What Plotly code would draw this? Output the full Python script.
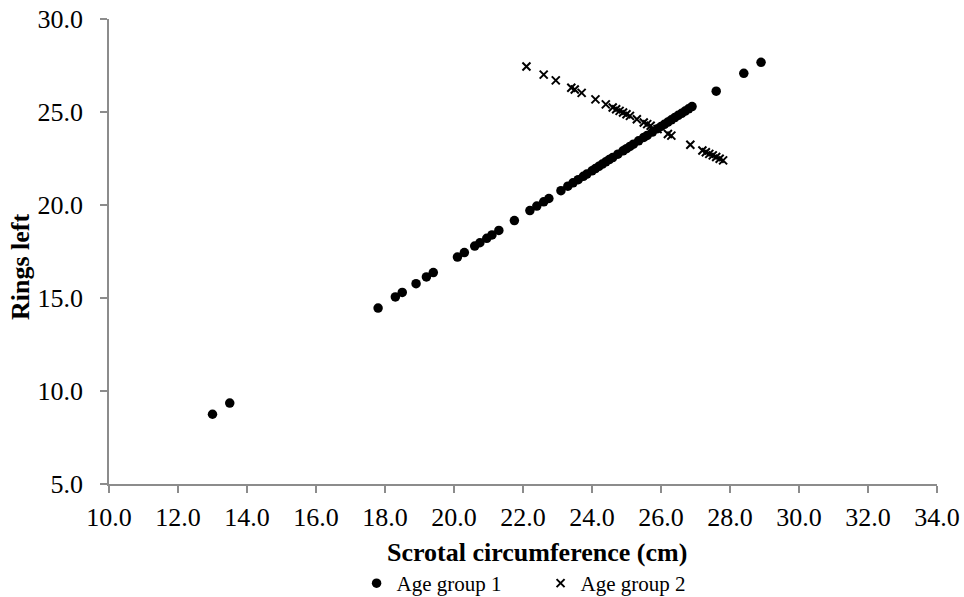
import plotly.graph_objects as go

# Age group 1 (filled circles)
g1_x = [13.0, 13.5, 17.8, 18.3, 18.5, 18.9, 19.2, 19.4, 20.1, 20.3, 20.6, 20.75, 20.95, 21.1, 21.3,
        21.75, 22.2, 22.4, 22.6, 22.75, 23.1, 23.3, 23.45, 23.6, 23.75, 23.85, 24.0, 24.1, 24.2,
        24.3, 24.4, 24.5, 24.6, 24.75, 24.9, 25.0, 25.1, 25.2, 25.35, 25.5, 25.6, 25.75, 25.9,
        26.0, 26.1, 26.2, 26.3, 26.4, 26.5, 26.6, 26.7, 26.8, 26.9, 27.6, 28.4, 28.9]
g1_y = [8.75, 9.35, 14.46, 15.06, 15.30, 15.77, 16.13, 16.37, 17.20, 17.44, 17.79, 17.97, 18.21,
        18.39, 18.63, 19.16, 19.70, 19.94, 20.17, 20.35, 20.77, 21.01, 21.19, 21.36, 21.54, 21.66,
        21.84, 21.96, 22.08, 22.20, 22.32, 22.44, 22.55, 22.73, 22.91, 23.03, 23.15, 23.27, 23.45,
        23.63, 23.74, 23.92, 24.10, 24.22, 24.34, 24.46, 24.58, 24.70, 24.82, 24.93, 25.05, 25.17,
        25.29, 26.12, 27.08, 27.67]

# Age group 2 (crosses)
g2_x = [22.1, 22.6, 22.95, 23.4, 23.5, 23.7, 24.1, 24.4, 24.6, 24.7, 24.8, 24.9, 25.0, 25.1,
        25.3, 25.5, 25.6, 25.7, 25.9, 26.2, 26.3, 26.85, 27.2, 27.3, 27.4, 27.5, 27.6, 27.7, 27.8]
g2_y = [27.45, 27.01, 26.70, 26.30, 26.21, 26.03, 25.68, 25.41, 25.24, 25.15, 25.06, 24.97,
        24.88, 24.79, 24.61, 24.44, 24.35, 24.26, 24.08, 23.82, 23.73, 23.24, 22.93, 22.84,
        22.75, 22.67, 22.58, 22.49, 22.40]

series_names = ["Age group 1", "Age group 2"]
x_title = "Scrotal circumference (cm)"
y_title = "Rings left"

FONT = "Liberation Serif, Times New Roman, serif"

fig = go.Figure()
fig.add_trace(go.Scatter(
    x=g1_x, y=g1_y, mode="markers", name=series_names[0],
    marker=dict(symbol="circle", size=9.5, color="black", line=dict(width=0)),
))
fig.add_trace(go.Scatter(
    x=g2_x, y=g2_y, mode="markers", name=series_names[1],
    marker=dict(symbol="x-thin-open", size=8, color="black", line=dict(width=2, color="black")),
))

axis_common = dict(
    showgrid=False, zeroline=False, showline=True, linecolor="#8c8c8c", linewidth=1.5,
    ticks="outside", ticklen=7, tickcolor="#8c8c8c", tickwidth=1.5,
    tickformat=".1f", tickfont=dict(family=FONT, size=26, color="black"),
)

fig.update_layout(
    width=964, height=597,
    margin=dict(l=109, r=27, t=19, b=113, autoexpand=False),
    paper_bgcolor="white", plot_bgcolor="white",
    font=dict(family=FONT, color="black"),
    xaxis=dict(range=[10, 34], dtick=2, tick0=10, ticklabelstandoff=2, **axis_common),
    yaxis=dict(range=[5, 30], dtick=5, tick0=5, ticklabelstandoff=12, **axis_common),
    legend=dict(orientation="h", x=0.299, xanchor="left", y=-0.214, yanchor="middle",
                font=dict(family=FONT, size=21, color="black"),
                itemwidth=30, entrywidth=139, entrywidthmode="pixels",
                tracegroupgap=0, bgcolor="rgba(0,0,0,0)", borderwidth=0),
    showlegend=True,
    annotations=[
        dict(text=x_title, xref="paper", yref="paper", x=0.517, y=-0.148,
             xanchor="center", yanchor="middle", showarrow=False,
             font=dict(family=FONT, size=26, color="black", weight="bold")),
        dict(text=y_title, xref="paper", yref="paper", x=-0.106, y=0.467,
             xanchor="center", yanchor="middle", showarrow=False, textangle=-90,
             font=dict(family=FONT, size=26, color="black", weight="bold")),
    ],
)

fig.write_html("out.html")
